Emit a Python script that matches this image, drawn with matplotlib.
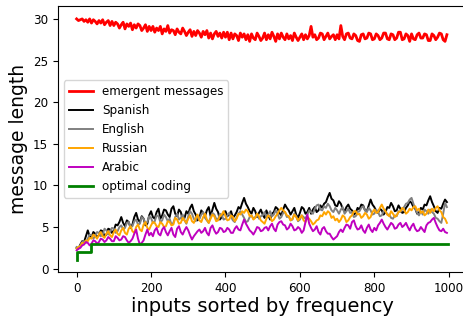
import numpy as np
import matplotlib
matplotlib.use("Agg")
import matplotlib.pyplot as plt

# sampled positions (every 5 inputs)
inputs = list(range(0, 1000, 5))

emergent = [30.0, 29.8, 29.9, 30.0, 29.7, 29.9, 29.6, 30.0, 29.5, 29.9, 29.7, 29.4, 29.8, 29.5, 29.9, 29.3, 29.6, 29.8, 29.2, 29.7,
            29.2, 29.6, 29.4, 28.9, 29.3, 29.6, 28.8, 29.4, 29.1, 29.5, 28.7, 29.3, 28.9, 29.4, 29.2, 28.6, 28.9, 29.3, 28.5, 29.1,
            28.6, 29.1, 28.4, 28.9, 28.6, 29.1, 28.2, 28.8, 28.5, 29.2, 28.3, 28.7, 28.6, 28.1, 28.8, 28.4, 28.2, 28.9, 28.5, 28.0,
            28.4, 28.7, 27.9, 28.5, 28.0, 28.6, 28.3, 27.8, 28.5, 28.1, 28.6, 27.7, 28.3, 27.6, 28.2, 28.5, 27.9, 28.3, 27.7, 28.4,
            27.8, 28.4, 27.5, 28.3, 27.6, 28.2, 28.0, 27.4, 28.3, 27.8, 28.2, 27.5, 28.1, 27.3, 28.2, 27.7, 27.5, 28.3, 27.9, 27.4,
            27.7, 28.3, 27.5, 28.1, 27.6, 28.4, 27.9, 27.3, 28.2, 27.6, 28.3, 27.8, 27.5, 28.2, 27.6, 28.0, 27.4, 28.3, 27.8, 27.4,
            27.8, 28.2, 27.5, 28.1, 27.6, 28.0, 29.1, 27.8, 28.1, 27.5, 27.7, 28.3, 28.2, 27.5, 27.9, 28.3, 27.6, 27.9, 28.1, 27.5,
            28.1, 27.6, 29.2, 27.9, 27.5, 28.2, 28.3, 27.7, 27.6, 28.2, 28.0, 27.4, 27.3, 28.1, 28.2, 27.6, 27.7, 28.3, 28.2, 27.5,
            27.6, 28.2, 28.0, 27.5, 27.7, 28.3, 28.3, 27.6, 27.5, 28.2, 28.1, 27.5, 27.7, 28.4, 28.4, 27.5, 27.6, 28.2, 28.0, 27.3,
            28.2, 27.6, 27.5, 28.1, 28.3, 27.7, 27.7, 28.2, 28.1, 27.4, 27.4, 28.2, 28.0, 27.5, 27.8, 28.3, 28.2, 27.5, 27.3, 28.1]

spanish = [2.5, 2.4, 2.9, 3.3, 3.2, 3.9, 4.6, 3.9, 3.8, 4.4, 4.2, 3.8, 4.0, 4.6, 4.5, 3.9, 4.1, 4.8, 4.7, 4.3,
           4.6, 5.3, 5.2, 5.6, 6.2, 5.5, 5.1, 5.8, 5.6, 4.9, 5.3, 6.2, 6.7, 5.9, 5.6, 6.3, 6.0, 5.2, 5.4, 6.4,
           6.9, 6.2, 6.0, 6.8, 7.2, 6.0, 6.4, 7.1, 7.0, 6.5, 6.2, 7.2, 7.5, 6.6, 6.3, 7.1, 6.8, 5.9, 6.1, 6.9,
           6.6, 7.3, 7.7, 6.9, 6.5, 5.8, 6.1, 7.0, 6.7, 6.3, 7.0, 7.4, 6.3, 7.1, 7.9, 7.2, 6.8, 5.9, 6.2, 6.8,
           6.9, 6.3, 6.5, 6.9, 6.1, 6.4, 6.8, 7.4, 7.2, 7.9, 8.5, 7.8, 7.4, 6.9, 6.6, 7.3, 6.9, 6.2, 6.7, 7.1,
           6.5, 6.1, 7.0, 6.4, 5.9, 6.6, 6.8, 7.4, 7.2, 6.7, 6.4, 7.1, 7.7, 7.3, 7.0, 6.5, 6.9, 7.3, 6.5, 6.1,
           6.7, 7.4, 7.2, 6.6, 6.8, 7.3, 6.6, 7.1, 7.4, 6.8, 7.0, 7.6, 7.3, 7.8, 8.0, 8.6, 9.1, 8.4, 8.2, 7.6,
           7.5, 8.1, 7.8, 7.2, 6.9, 7.4, 7.7, 7.2, 7.0, 6.5, 6.7, 7.3, 7.1, 7.7, 7.6, 7.0, 6.9, 7.6, 8.3, 7.7,
           7.4, 6.9, 6.7, 7.2, 7.0, 6.5, 6.8, 7.4, 7.3, 7.9, 7.5, 6.9, 7.0, 7.6, 7.2, 6.7, 6.8, 7.3, 7.6, 8.1,
           7.9, 7.4, 7.2, 6.6, 6.7, 7.3, 7.1, 7.7, 7.6, 8.2, 8.7, 8.0, 7.5, 6.9, 6.7, 7.3, 7.2, 7.8, 8.3, 8.0]

english = [2.6, 2.5, 2.8, 3.2, 3.3, 3.1, 3.6, 4.1, 4.0, 3.6, 3.9, 4.4, 4.3, 3.9, 4.1, 4.8, 4.6, 4.1, 4.4, 4.9,
           4.8, 4.3, 4.5, 5.0, 5.2, 4.7, 4.9, 5.5, 5.6, 5.0, 5.1, 5.7, 5.9, 5.3, 5.4, 6.2, 6.0, 5.4, 5.6, 6.3,
           6.1, 5.5, 5.7, 6.4, 6.3, 5.6, 5.8, 6.5, 6.2, 5.7, 6.0, 5.3, 5.5, 6.2, 6.6, 5.9, 6.1, 6.5, 5.8, 5.4,
           6.3, 6.9, 6.6, 6.0, 5.7, 6.3, 6.0, 6.5, 6.8, 6.1, 5.8, 5.5, 6.2, 6.7, 6.5, 6.0, 5.9, 6.6, 6.4, 5.9,
           6.0, 6.4, 6.7, 6.2, 5.8, 5.6, 6.2, 6.6, 6.9, 6.5, 6.1, 5.6, 5.7, 6.2, 6.4, 6.0, 6.2, 6.6, 6.0, 6.3,
           6.4, 6.8, 6.2, 6.5, 6.9, 6.3, 6.5, 7.0, 6.6, 6.0, 6.2, 6.7, 6.8, 6.2, 6.3, 5.8, 5.9, 6.6, 6.3, 5.7,
           5.9, 6.4, 6.2, 6.0, 6.5, 7.0, 6.8, 6.6, 7.2, 7.6, 7.7, 7.1, 7.0, 7.5, 7.3, 7.8, 7.5, 7.0, 6.8, 7.3,
           7.0, 6.6, 7.1, 7.4, 6.6, 6.9, 7.2, 6.7, 6.8, 6.2, 6.3, 6.8, 6.9, 7.3, 7.5, 7.0, 6.8, 7.3, 7.0, 6.5,
           6.6, 7.1, 6.8, 6.3, 6.4, 6.9, 6.9, 6.5, 6.5, 6.1, 6.0, 6.4, 6.3, 6.9, 6.8, 7.2, 7.4, 7.8, 7.9, 8.3,
           8.5, 7.8, 7.2, 6.7, 6.4, 6.9, 6.5, 7.1, 6.9, 6.6, 7.1, 6.8, 6.6, 6.1, 6.0, 5.7, 5.5, 6.6, 7.9, 7.4]

russian = [2.4, 2.6, 2.7, 3.1, 3.0, 3.4, 3.3, 3.7, 3.6, 4.1, 3.9, 3.6, 4.1, 4.4, 3.9, 3.7, 4.2, 4.5, 4.0, 3.8,
           4.4, 4.7, 4.2, 4.0, 4.6, 4.9, 4.3, 4.1, 4.8, 5.1, 4.5, 4.3, 5.0, 5.3, 4.7, 4.5, 5.3, 5.6, 4.9, 4.7,
           5.2, 5.6, 5.5, 5.1, 5.0, 5.6, 5.4, 5.0, 5.1, 5.7, 5.6, 5.2, 5.3, 6.1, 5.9, 5.4, 5.5, 6.1, 5.8, 5.5,
           6.0, 6.4, 5.7, 5.5, 6.1, 6.5, 5.8, 5.6, 6.2, 6.6, 5.9, 5.5, 6.0, 6.5, 6.3, 5.7, 5.8, 6.3, 6.5, 6.9,
           6.3, 5.8, 5.9, 6.4, 6.2, 5.7, 6.0, 6.6, 6.5, 6.9, 6.7, 7.1, 6.9, 6.3, 6.4, 5.9, 6.1, 6.6, 6.3, 5.8,
           5.6, 5.4, 6.0, 6.4, 6.2, 5.7, 5.9, 6.3, 6.6, 7.0, 7.3, 7.0, 6.8, 6.4, 6.3, 5.8, 6.0, 6.5, 6.2, 5.8,
           6.1, 6.4, 5.8, 5.6, 6.2, 6.0, 5.7, 5.3, 5.5, 5.8, 5.9, 6.4, 6.3, 6.8, 6.5, 6.9, 6.7, 6.1, 6.3, 5.8,
           6.0, 5.6, 5.9, 6.4, 6.2, 5.6, 5.8, 6.2, 6.4, 6.9, 6.9, 6.5, 6.6, 6.1, 6.3, 6.7, 6.5, 6.0, 6.2, 6.8,
           7.1, 6.7, 6.8, 7.3, 7.7, 7.2, 6.9, 6.5, 6.3, 6.9, 6.6, 6.2, 6.4, 6.8, 6.9, 7.3, 7.1, 6.6, 6.8, 7.2,
           7.0, 7.4, 7.5, 7.0, 7.2, 6.7, 6.9, 6.4, 6.6, 7.1, 6.7, 7.2, 6.9, 7.3, 7.5, 7.0, 6.8, 6.2, 6.0, 5.5]

arabic = [2.2, 2.4, 2.5, 2.8, 2.9, 3.2, 3.1, 2.8, 3.0, 3.4, 3.3, 3.0, 3.2, 3.6, 3.5, 3.2, 3.4, 3.8, 3.6, 3.3,
          3.3, 3.9, 3.7, 3.4, 3.5, 3.9, 3.8, 3.4, 3.1, 3.3, 3.6, 4.2, 4.7, 3.6, 2.9, 3.1, 3.4, 4.1, 4.7, 4.0,
          4.3, 3.9, 4.6, 4.9, 4.2, 4.0, 4.7, 5.0, 4.4, 4.0, 4.5, 4.9, 4.1, 3.8, 4.8, 5.1, 4.4, 4.1, 4.6, 5.0,
          4.6, 4.0, 3.5, 3.9, 4.2, 4.5, 4.7, 4.3, 4.5, 4.9, 4.3, 4.0, 4.9, 5.2, 4.6, 4.2, 4.4, 4.9, 4.8, 4.4,
          4.5, 4.9, 4.7, 4.3, 4.3, 4.8, 5.1, 4.7, 4.6, 5.3, 5.9, 5.4, 5.0, 4.6, 4.4, 4.1, 4.5, 5.0, 4.9, 4.5,
          4.6, 4.9, 5.0, 4.6, 5.1, 5.4, 4.8, 4.5, 5.3, 5.6, 5.7, 5.3, 5.2, 4.7, 4.9, 5.4, 5.1, 4.6, 4.7, 5.0,
          4.8, 4.3, 4.6, 5.6, 6.5, 5.4, 4.9, 4.5, 4.7, 5.1, 4.4, 4.1, 4.8, 5.0, 4.5, 4.2, 4.2, 3.8, 3.5, 3.7,
          3.9, 4.4, 4.7, 4.4, 4.9, 5.3, 5.2, 4.8, 5.6, 5.8, 5.1, 4.7, 4.8, 5.2, 4.6, 4.3, 4.9, 5.3, 4.7, 4.4,
          4.9, 4.6, 5.2, 5.5, 5.9, 5.4, 5.0, 4.7, 5.1, 5.5, 5.3, 4.8, 4.9, 5.3, 5.5, 5.0, 5.2, 5.5, 5.0, 4.6,
          5.1, 5.4, 4.8, 4.5, 4.6, 5.0, 4.7, 4.4, 5.2, 5.5, 5.6, 5.9, 6.1, 5.5, 5.0, 4.6, 4.5, 4.8, 4.4, 4.3]

optimal_x = [0, 2, 39, 999]
optimal_y = [1, 2, 3, 3]

fig = plt.figure(figsize=(4.64, 3.18), dpi=100)
ax = fig.add_axes([58/464, 1-272/318, (467-58)/464, (272-6)/318])

ax.plot(inputs, emergent, color='red', lw=2.0, label='emergent messages')
ax.plot(inputs, spanish, color='black', lw=1.4, label='Spanish')
ax.plot(inputs, english, color='grey', lw=1.4, label='English')
ax.plot(inputs, russian, color='orange', lw=1.4, label='Russian')
ax.plot(inputs, arabic, color='m', lw=1.4, label='Arabic')
ax.plot(optimal_x, optimal_y, color='green', lw=2, drawstyle='steps-post', label='optimal coding')

ax.set_xticks([0, 200, 400, 600, 800, 1000])
ax.set_yticks([0, 5, 10, 15, 20, 25, 30])
ax.set_xlim(-50, 1049)
ax.set_ylim(-0.4, 31.55)
ax.tick_params(labelsize=8.6)
ax.set_xlabel('inputs sorted by frequency', fontsize=14, labelpad=2)
ax.set_ylabel('message length', fontsize=13.5, labelpad=4)
ax.legend(loc='center left', fontsize=8.6)

fig.savefig('out.png', dpi=100)
